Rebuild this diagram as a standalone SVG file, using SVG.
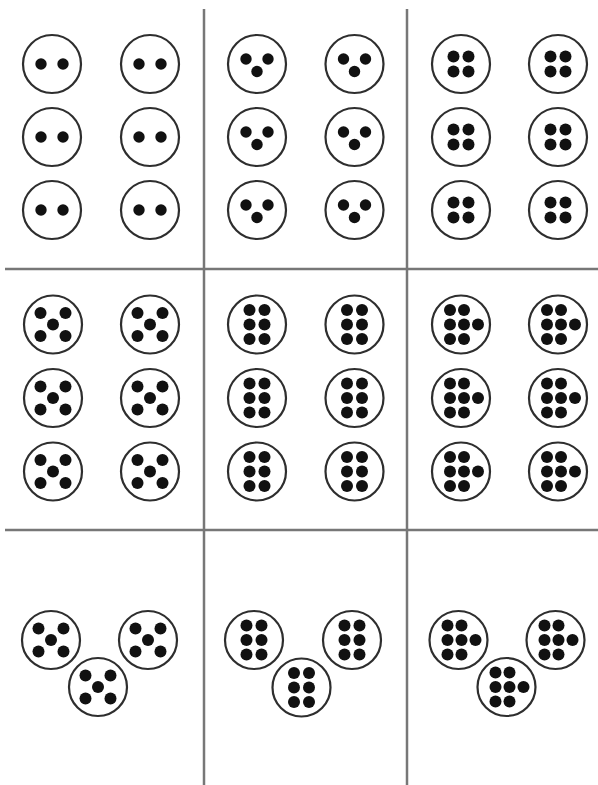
<svg xmlns="http://www.w3.org/2000/svg" xmlns:xlink="http://www.w3.org/1999/xlink" width="598" height="785" viewBox="0 0 598 785">
<style>
.ring{fill:#fff;stroke:#2e2e2e;stroke-width:2.2}
.dot{fill:#111}
.grid{stroke:#777;stroke-width:2.5;fill:none}
</style>
<defs>
<g id="p2"><circle class="ring" r="29"/><circle class="dot" cx="-11" cy="0" r="5.7"/><circle class="dot" cx="11" cy="0" r="5.7"/></g>
<g id="p3"><circle class="ring" r="29"/><circle class="dot" cx="-11" cy="-5" r="5.7"/><circle class="dot" cx="11" cy="-5" r="5.7"/><circle class="dot" cx="0" cy="7.5" r="5.7"/></g>
<g id="p4"><circle class="ring" r="29"/><circle class="dot" cx="-7.5" cy="-7.5" r="6"/><circle class="dot" cx="7.5" cy="-7.5" r="6"/><circle class="dot" cx="-7.5" cy="7.5" r="6"/><circle class="dot" cx="7.5" cy="7.5" r="6"/></g>
<g id="p5"><circle class="ring" r="29"/><circle class="dot" cx="-12.5" cy="-11.5" r="6"/><circle class="dot" cx="12.5" cy="-11.5" r="6"/><circle class="dot" cx="0" cy="0" r="6"/><circle class="dot" cx="-12.5" cy="11.5" r="6"/><circle class="dot" cx="12.5" cy="11.5" r="6"/></g>
<g id="p6"><circle class="ring" r="29"/><circle class="dot" cx="-7.5" cy="-14.5" r="6"/><circle class="dot" cx="7.5" cy="-14.5" r="6"/><circle class="dot" cx="-7.5" cy="0" r="6"/><circle class="dot" cx="7.5" cy="0" r="6"/><circle class="dot" cx="-7.5" cy="14.5" r="6"/><circle class="dot" cx="7.5" cy="14.5" r="6"/></g>
<g id="p7"><circle class="ring" r="29"/><circle class="dot" cx="-11" cy="-14.5" r="6"/><circle class="dot" cx="3" cy="-14.5" r="6"/><circle class="dot" cx="-11" cy="0" r="6"/><circle class="dot" cx="3" cy="0" r="6"/><circle class="dot" cx="17" cy="0" r="6"/><circle class="dot" cx="-11" cy="14.5" r="6"/><circle class="dot" cx="3" cy="14.5" r="6"/></g>
</defs>
<rect width="598" height="785" fill="#fff"/>
<g id="connectors">
<line class="grid" x1="204" y1="9" x2="204" y2="785"/>
<line class="grid" x1="407" y1="9" x2="407" y2="785"/>
<line class="grid" x1="5" y1="269" x2="598" y2="269"/>
<line class="grid" x1="5" y1="530" x2="598" y2="530"/>
</g>
<g id="n-a1"><use href="#p2" x="52" y="64"/></g>
<g id="n-a2"><use href="#p2" x="150" y="64"/></g>
<g id="n-a3"><use href="#p2" x="52" y="137"/></g>
<g id="n-a4"><use href="#p2" x="150" y="137"/></g>
<g id="n-a5"><use href="#p2" x="52" y="210"/></g>
<g id="n-a6"><use href="#p2" x="150" y="210"/></g>
<g id="n-b1"><use href="#p3" x="257" y="64"/></g>
<g id="n-b2"><use href="#p3" x="354.5" y="64"/></g>
<g id="n-b3"><use href="#p3" x="257" y="137"/></g>
<g id="n-b4"><use href="#p3" x="354.5" y="137"/></g>
<g id="n-b5"><use href="#p3" x="257" y="210"/></g>
<g id="n-b6"><use href="#p3" x="354.5" y="210"/></g>
<g id="n-c1"><use href="#p4" x="461" y="64"/></g>
<g id="n-c2"><use href="#p4" x="558" y="64"/></g>
<g id="n-c3"><use href="#p4" x="461" y="137"/></g>
<g id="n-c4"><use href="#p4" x="558" y="137"/></g>
<g id="n-c5"><use href="#p4" x="461" y="210"/></g>
<g id="n-c6"><use href="#p4" x="558" y="210"/></g>
<g id="n-d1"><use href="#p5" x="53" y="324.5"/></g>
<g id="n-d2"><use href="#p5" x="150" y="324.5"/></g>
<g id="n-d3"><use href="#p5" x="53" y="398"/></g>
<g id="n-d4"><use href="#p5" x="150" y="398"/></g>
<g id="n-d5"><use href="#p5" x="53" y="471.5"/></g>
<g id="n-d6"><use href="#p5" x="150" y="471.5"/></g>
<g id="n-e1"><use href="#p6" x="257" y="324.5"/></g>
<g id="n-e2"><use href="#p6" x="354.5" y="324.5"/></g>
<g id="n-e3"><use href="#p6" x="257" y="398"/></g>
<g id="n-e4"><use href="#p6" x="354.5" y="398"/></g>
<g id="n-e5"><use href="#p6" x="257" y="471.5"/></g>
<g id="n-e6"><use href="#p6" x="354.5" y="471.5"/></g>
<g id="n-f1"><use href="#p7" x="461" y="324.5"/></g>
<g id="n-f2"><use href="#p7" x="558" y="324.5"/></g>
<g id="n-f3"><use href="#p7" x="461" y="398"/></g>
<g id="n-f4"><use href="#p7" x="558" y="398"/></g>
<g id="n-f5"><use href="#p7" x="461" y="471.5"/></g>
<g id="n-f6"><use href="#p7" x="558" y="471.5"/></g>
<g id="n-g1"><use href="#p5" x="51" y="640"/></g>
<g id="n-g2"><use href="#p5" x="148" y="640"/></g>
<g id="n-g3"><use href="#p5" x="98" y="687"/></g>
<g id="n-h1"><use href="#p6" x="254" y="640"/></g>
<g id="n-h2"><use href="#p6" x="352" y="640"/></g>
<g id="n-h3"><use href="#p6" x="301.5" y="687.5"/></g>
<g id="n-i1"><use href="#p7" x="458.5" y="640"/></g>
<g id="n-i2"><use href="#p7" x="555.5" y="640"/></g>
<g id="n-i3"><use href="#p7" x="506.5" y="687"/></g>
</svg>
